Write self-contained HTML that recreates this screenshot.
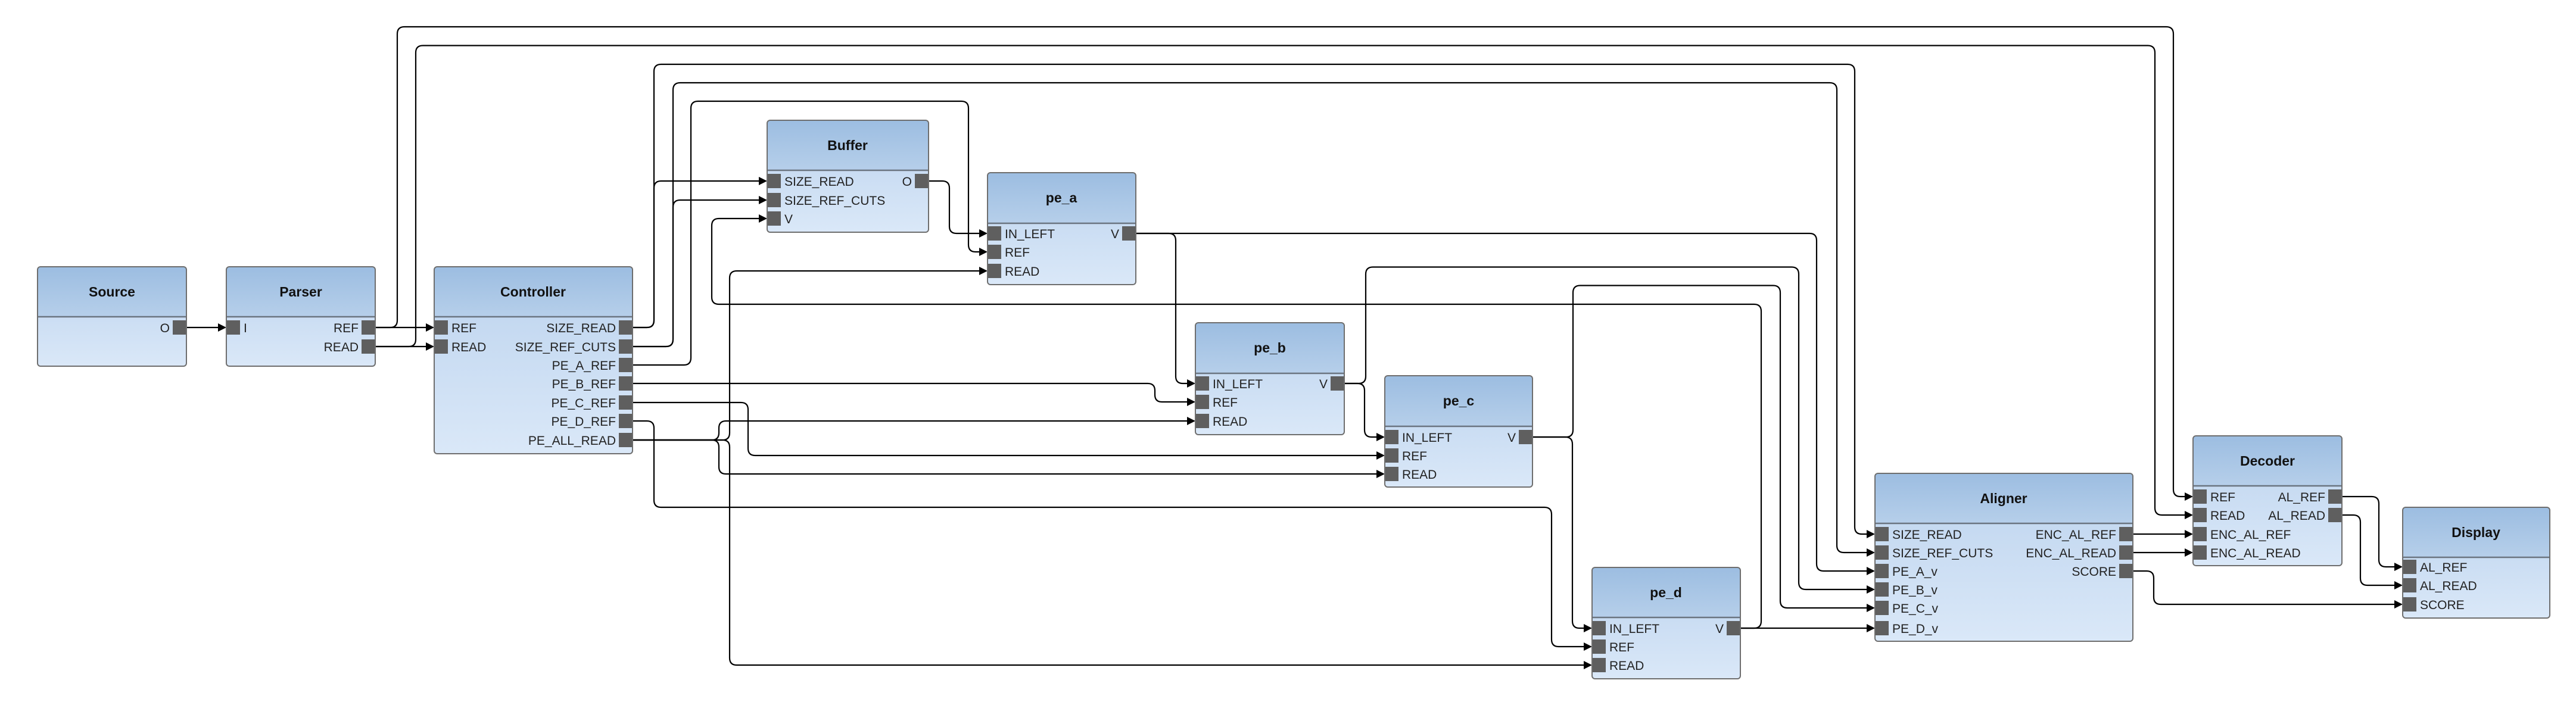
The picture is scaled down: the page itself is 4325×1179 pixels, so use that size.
<!DOCTYPE html>
<html><head><meta charset="utf-8"><style>
html,body{margin:0;padding:0;background:#fff;}
svg{display:block;}
.t{font-family:"Liberation Sans",sans-serif;font-weight:bold;font-size:23px;fill:#111;text-anchor:middle;}
.p{font-family:"Liberation Sans",sans-serif;font-size:21px;fill:#222;}
.e{text-anchor:end;}
.w{fill:none;stroke:#000;stroke-width:2.2;}
.ps{fill:#5f5f5f;}
.bx{fill:none;stroke:#6e6e6e;stroke-width:2;}
.dv{stroke:#6b7581;stroke-width:2.5;}
</style></head><body>
<svg width="4325" height="1179" viewBox="0 0 4325 1179" xmlns="http://www.w3.org/2000/svg">
<defs>
<linearGradient id="hd" x1="0" y1="0" x2="0" y2="1"><stop offset="0" stop-color="#9cbde1"/><stop offset="1" stop-color="#b6cfea"/></linearGradient>
<linearGradient id="bd" x1="0" y1="0" x2="0" y2="1"><stop offset="0" stop-color="#bcd3ee"/><stop offset="1" stop-color="#dae8f8"/></linearGradient>
</defs>

<!-- wires -->
<g class="w">
<path d="M313 550 H368"/>
<path d="M630 550 H717"/>
<path d="M630 582 H717"/>
<path d="M630 550 H655 Q667 550 667 538 V57 Q667 45 679 45 H3637 Q3649 45 3649 57 V822 Q3649 834 3661 834 H3670"/>
<path d="M630 582 H686 Q698 582 698 570 V88.5 Q698 76.5 710 76.5 H3606 Q3618 76.5 3618 88.5 V853 Q3618 865 3630 865 H3670"/>
<path d="M1062 550 H1086 Q1098 550 1098 538 V316 Q1098 304 1110 304 H1276"/>
<path d="M1062 550 H1086 Q1098 550 1098 538 V120 Q1098 108 1110 108 H3102 Q3114 108 3114 120 V885 Q3114 897 3126 897 H3136"/>
<path d="M1062 582 H1118 Q1130 582 1130 570 V348 Q1130 336 1142 336 H1276"/>
<path d="M1062 582 H1118 Q1130 582 1130 570 V151 Q1130 139 1142 139 H3072 Q3084 139 3084 151 V916 Q3084 928 3096 928 H3136"/>
<path d="M1062 613 H1148 Q1160 613 1160 601 V182 Q1160 170 1172 170 H1614 Q1626 170 1626 182 V411 Q1626 423 1638 423 H1646"/>
<path d="M1062 644 H1927 Q1939 644 1939 656 V663 Q1939 675 1951 675 H1995"/>
<path d="M1062 676 H1244 Q1256 676 1256 688 V753 Q1256 765 1268 765 H2313"/>
<path d="M1062 707 H1086 Q1098 707 1098 719 V840 Q1098 852 1110 852 H2593 Q2605 852 2605 864 V1074 Q2605 1086 2617 1086 H2661"/>
<path d="M1062 739 H1195 Q1207 739 1207 727 V719 Q1207 707 1219 707 H1995"/>
<path d="M1062 739 H1195 Q1207 739 1207 751 V784 Q1207 796 1219 796 H2313"/>
<path d="M1062 739 H1213 Q1225 739 1225 727 V467 Q1225 455 1237 455 H1646"/>
<path d="M1062 739 H1213 Q1225 739 1225 751 V1105 Q1225 1117 1237 1117 H2661"/>
<path d="M1559 304 H1582 Q1594 304 1594 316 V380 Q1594 392 1606 392 H1646"/>
<path d="M1907 392 H1962 Q1974 392 1974 404 V632 Q1974 644 1986 644 H1995"/>
<path d="M1907 392 H3038 Q3050 392 3050 404 V947 Q3050 959 3062 959 H3136"/>
<path d="M2257 644 H2279 Q2291 644 2291 656 V722 Q2291 734 2303 734 H2313"/>
<path d="M2257 644 H2281 Q2293 644 2293 632 V460.5 Q2293 448.5 2305 448.5 H3008 Q3020 448.5 3020 460.5 V978 Q3020 990 3032 990 H3136"/>
<path d="M2573 734 H2628 Q2640 734 2640 746 V1043 Q2640 1055 2652 1055 H2661"/>
<path d="M2573 734 H2629 Q2641 734 2641 722 V491.5 Q2641 479.5 2653 479.5 H2977 Q2989 479.5 2989 491.5 V1009 Q2989 1021 3001 1021 H3136"/>
<path d="M2922 1055 H3136"/>
<path d="M2922 1055 H2945 Q2957 1055 2957 1043 V523 Q2957 511 2945 511 H1207 Q1195 511 1195 499 V379 Q1195 367 1207 367 H1276"/>
<path d="M3581 897 H3670"/>
<path d="M3581 928 H3670"/>
<path d="M3581 959 H3604 Q3616 959 3616 971 V1003 Q3616 1015 3628 1015 H4022"/>
<path d="M3932 834 H3982 Q3994 834 3994 846 V940 Q3994 952 4006 952 H4022"/>
<path d="M3932 865 H3951 Q3963 865 3963 877 V971 Q3963 983 3975 983 H4022"/>
</g>
<g fill="#000">
<polygon points="380,550 366,543 366,557"/>
<polygon points="729,550 715,543 715,557"/>
<polygon points="729,582 715,575 715,589"/>
<polygon points="3682,834 3668,827 3668,841"/>
<polygon points="3682,865 3668,858 3668,872"/>
<polygon points="1288,304 1274,297 1274,311"/>
<polygon points="3148,897 3134,890 3134,904"/>
<polygon points="1288,336 1274,329 1274,343"/>
<polygon points="3148,928 3134,921 3134,935"/>
<polygon points="1658,423 1644,416 1644,430"/>
<polygon points="2007,675 1993,668 1993,682"/>
<polygon points="2325,765 2311,758 2311,772"/>
<polygon points="2673,1086 2659,1079 2659,1093"/>
<polygon points="2007,707 1993,700 1993,714"/>
<polygon points="2325,796 2311,789 2311,803"/>
<polygon points="1658,455 1644,448 1644,462"/>
<polygon points="2673,1117 2659,1110 2659,1124"/>
<polygon points="1658,392 1644,385 1644,399"/>
<polygon points="2007,644 1993,637 1993,651"/>
<polygon points="3148,959 3134,952 3134,966"/>
<polygon points="2325,734 2311,727 2311,741"/>
<polygon points="3148,990 3134,983 3134,997"/>
<polygon points="2673,1055 2659,1048 2659,1062"/>
<polygon points="3148,1021 3134,1014 3134,1028"/>
<polygon points="3148,1055 3134,1048 3134,1062"/>
<polygon points="1288,367 1274,360 1274,374"/>
<polygon points="3682,897 3668,890 3668,904"/>
<polygon points="3682,928 3668,921 3668,935"/>
<polygon points="4034,1015 4020,1008 4020,1022"/>
<polygon points="4034,952 4020,945 4020,959"/>
<polygon points="4034,983 4020,976 4020,990"/>
</g>

<!-- Source -->
<g>
<rect x="63" y="448" width="250" height="167" rx="5" fill="url(#bd)"/>
<rect x="63" y="448" width="250" height="84" rx="5" fill="url(#hd)"/>
<line class="dv" x1="63" y1="532" x2="313" y2="532"/>
<rect class="bx" x="63" y="448" width="250" height="167" rx="5"/>
<text class="t" x="188" y="498">Source</text>
<rect class="ps" x="290" y="538" width="22" height="24"/><text class="p e" x="285" y="558">O</text>
</g>
<!-- Parser -->
<g>
<rect x="380" y="448" width="250" height="167" rx="5" fill="url(#bd)"/>
<rect x="380" y="448" width="250" height="84" rx="5" fill="url(#hd)"/>
<line class="dv" x1="380" y1="532" x2="630" y2="532"/>
<rect class="bx" x="380" y="448" width="250" height="167" rx="5"/>
<text class="t" x="505" y="498">Parser</text>
<rect class="ps" x="381" y="538" width="22" height="24"/><text class="p" x="409" y="558">I</text>
<rect class="ps" x="607" y="538" width="22" height="24"/><text class="p e" x="602" y="558">REF</text>
<rect class="ps" x="607" y="570" width="22" height="24"/><text class="p e" x="602" y="590">READ</text>
</g>
<!-- Controller -->
<g>
<rect x="729" y="448" width="333" height="314" rx="5" fill="url(#bd)"/>
<rect x="729" y="448" width="333" height="84" rx="5" fill="url(#hd)"/>
<line class="dv" x1="729" y1="532" x2="1062" y2="532"/>
<rect class="bx" x="729" y="448" width="333" height="314" rx="5"/>
<text class="t" x="895" y="498">Controller</text>
<rect class="ps" x="730" y="538" width="22" height="24"/><text class="p" x="758" y="558">REF</text>
<rect class="ps" x="730" y="570" width="22" height="24"/><text class="p" x="758" y="590">READ</text>
<rect class="ps" x="1039" y="538" width="22" height="24"/><text class="p e" x="1034" y="558">SIZE_READ</text>
<rect class="ps" x="1039" y="570" width="22" height="24"/><text class="p e" x="1034" y="590">SIZE_REF_CUTS</text>
<rect class="ps" x="1039" y="601" width="22" height="24"/><text class="p e" x="1034" y="621">PE_A_REF</text>
<rect class="ps" x="1039" y="632" width="22" height="24"/><text class="p e" x="1034" y="652">PE_B_REF</text>
<rect class="ps" x="1039" y="664" width="22" height="24"/><text class="p e" x="1034" y="684">PE_C_REF</text>
<rect class="ps" x="1039" y="695" width="22" height="24"/><text class="p e" x="1034" y="715">PE_D_REF</text>
<rect class="ps" x="1039" y="727" width="22" height="24"/><text class="p e" x="1034" y="747">PE_ALL_READ</text>
</g>
<!-- Buffer -->
<g>
<rect x="1288" y="202" width="271" height="188" rx="5" fill="url(#bd)"/>
<rect x="1288" y="202" width="271" height="84" rx="5" fill="url(#hd)"/>
<line class="dv" x1="1288" y1="286" x2="1559" y2="286"/>
<rect class="bx" x="1288" y="202" width="271" height="188" rx="5"/>
<text class="t" x="1423" y="252">Buffer</text>
<rect class="ps" x="1289" y="292" width="22" height="24"/><text class="p" x="1317" y="312">SIZE_READ</text>
<rect class="ps" x="1289" y="324" width="22" height="24"/><text class="p" x="1317" y="344">SIZE_REF_CUTS</text>
<rect class="ps" x="1289" y="355" width="22" height="24"/><text class="p" x="1317" y="375">V</text>
<rect class="ps" x="1536" y="292" width="22" height="24"/><text class="p e" x="1531" y="312">O</text>
</g>
<!-- pe_a -->
<g>
<rect x="1658" y="290" width="249" height="188" rx="5" fill="url(#bd)"/>
<rect x="1658" y="290" width="249" height="85" rx="5" fill="url(#hd)"/>
<line class="dv" x1="1658" y1="375" x2="1907" y2="375"/>
<rect class="bx" x="1658" y="290" width="249" height="188" rx="5"/>
<text class="t" x="1782" y="340">pe_a</text>
<rect class="ps" x="1659" y="380" width="22" height="24"/><text class="p" x="1687" y="400">IN_LEFT</text>
<rect class="ps" x="1659" y="411" width="22" height="24"/><text class="p" x="1687" y="431">REF</text>
<rect class="ps" x="1659" y="443" width="22" height="24"/><text class="p" x="1687" y="463">READ</text>
<rect class="ps" x="1884" y="380" width="22" height="24"/><text class="p e" x="1879" y="400">V</text>
</g>
<!-- pe_b -->
<g>
<rect x="2007" y="542" width="250" height="188" rx="5" fill="url(#bd)"/>
<rect x="2007" y="542" width="250" height="85" rx="5" fill="url(#hd)"/>
<line class="dv" x1="2007" y1="627" x2="2257" y2="627"/>
<rect class="bx" x="2007" y="542" width="250" height="188" rx="5"/>
<text class="t" x="2132" y="592">pe_b</text>
<rect class="ps" x="2008" y="632" width="22" height="24"/><text class="p" x="2036" y="652">IN_LEFT</text>
<rect class="ps" x="2008" y="663" width="22" height="24"/><text class="p" x="2036" y="683">REF</text>
<rect class="ps" x="2008" y="695" width="22" height="24"/><text class="p" x="2036" y="715">READ</text>
<rect class="ps" x="2234" y="632" width="22" height="24"/><text class="p e" x="2229" y="652">V</text>
</g>
<!-- pe_c -->
<g>
<rect x="2325" y="631" width="248" height="187" rx="5" fill="url(#bd)"/>
<rect x="2325" y="631" width="248" height="85" rx="5" fill="url(#hd)"/>
<line class="dv" x1="2325" y1="716" x2="2573" y2="716"/>
<rect class="bx" x="2325" y="631" width="248" height="187" rx="5"/>
<text class="t" x="2449" y="681">pe_c</text>
<rect class="ps" x="2326" y="722" width="22" height="24"/><text class="p" x="2354" y="742">IN_LEFT</text>
<rect class="ps" x="2326" y="753" width="22" height="24"/><text class="p" x="2354" y="773">REF</text>
<rect class="ps" x="2326" y="784" width="22" height="24"/><text class="p" x="2354" y="804">READ</text>
<rect class="ps" x="2550" y="722" width="22" height="24"/><text class="p e" x="2545" y="742">V</text>
</g>
<!-- pe_d -->
<g>
<rect x="2673" y="953" width="249" height="187" rx="5" fill="url(#bd)"/>
<rect x="2673" y="953" width="249" height="84" rx="5" fill="url(#hd)"/>
<line class="dv" x1="2673" y1="1037" x2="2922" y2="1037"/>
<rect class="bx" x="2673" y="953" width="249" height="187" rx="5"/>
<text class="t" x="2797" y="1003">pe_d</text>
<rect class="ps" x="2674" y="1043" width="22" height="24"/><text class="p" x="2702" y="1063">IN_LEFT</text>
<rect class="ps" x="2674" y="1074" width="22" height="24"/><text class="p" x="2702" y="1094">REF</text>
<rect class="ps" x="2674" y="1105" width="22" height="24"/><text class="p" x="2702" y="1125">READ</text>
<rect class="ps" x="2899" y="1043" width="22" height="24"/><text class="p e" x="2894" y="1063">V</text>
</g>
<!-- Aligner -->
<g>
<rect x="3148" y="795" width="433" height="282" rx="5" fill="url(#bd)"/>
<rect x="3148" y="795" width="433" height="84" rx="5" fill="url(#hd)"/>
<line class="dv" x1="3148" y1="879" x2="3581" y2="879"/>
<rect class="bx" x="3148" y="795" width="433" height="282" rx="5"/>
<text class="t" x="3364" y="845">Aligner</text>
<rect class="ps" x="3149" y="885" width="22" height="24"/><text class="p" x="3177" y="905">SIZE_READ</text>
<rect class="ps" x="3149" y="916" width="22" height="24"/><text class="p" x="3177" y="936">SIZE_REF_CUTS</text>
<rect class="ps" x="3149" y="947" width="22" height="24"/><text class="p" x="3177" y="967">PE_A_v</text>
<rect class="ps" x="3149" y="978" width="22" height="24"/><text class="p" x="3177" y="998">PE_B_v</text>
<rect class="ps" x="3149" y="1009" width="22" height="24"/><text class="p" x="3177" y="1029">PE_C_v</text>
<rect class="ps" x="3149" y="1043" width="22" height="24"/><text class="p" x="3177" y="1063">PE_D_v</text>
<rect class="ps" x="3558" y="885" width="22" height="24"/><text class="p e" x="3553" y="905">ENC_AL_REF</text>
<rect class="ps" x="3558" y="916" width="22" height="24"/><text class="p e" x="3553" y="936">ENC_AL_READ</text>
<rect class="ps" x="3558" y="947" width="22" height="24"/><text class="p e" x="3553" y="967">SCORE</text>
</g>
<!-- Decoder -->
<g>
<rect x="3682" y="732" width="250" height="218" rx="5" fill="url(#bd)"/>
<rect x="3682" y="732" width="250" height="84" rx="5" fill="url(#hd)"/>
<line class="dv" x1="3682" y1="816" x2="3932" y2="816"/>
<rect class="bx" x="3682" y="732" width="250" height="218" rx="5"/>
<text class="t" x="3807" y="782">Decoder</text>
<rect class="ps" x="3683" y="822" width="22" height="24"/><text class="p" x="3711" y="842">REF</text>
<rect class="ps" x="3683" y="853" width="22" height="24"/><text class="p" x="3711" y="873">READ</text>
<rect class="ps" x="3683" y="885" width="22" height="24"/><text class="p" x="3711" y="905">ENC_AL_REF</text>
<rect class="ps" x="3683" y="916" width="22" height="24"/><text class="p" x="3711" y="936">ENC_AL_READ</text>
<rect class="ps" x="3909" y="822" width="22" height="24"/><text class="p e" x="3904" y="842">AL_REF</text>
<rect class="ps" x="3909" y="853" width="22" height="24"/><text class="p e" x="3904" y="873">AL_READ</text>
</g>
<!-- Display -->
<g>
<rect x="4034" y="852" width="247" height="186" rx="5" fill="url(#bd)"/>
<rect x="4034" y="852" width="247" height="84" rx="5" fill="url(#hd)"/>
<line class="dv" x1="4034" y1="936" x2="4281" y2="936"/>
<rect class="bx" x="4034" y="852" width="247" height="186" rx="5"/>
<text class="t" x="4157" y="902">Display</text>
<rect class="ps" x="4035" y="940" width="22" height="24"/><text class="p" x="4063" y="960">AL_REF</text>
<rect class="ps" x="4035" y="971" width="22" height="24"/><text class="p" x="4063" y="991">AL_READ</text>
<rect class="ps" x="4035" y="1003" width="22" height="24"/><text class="p" x="4063" y="1023">SCORE</text>
</g>
</svg>
</body></html>
